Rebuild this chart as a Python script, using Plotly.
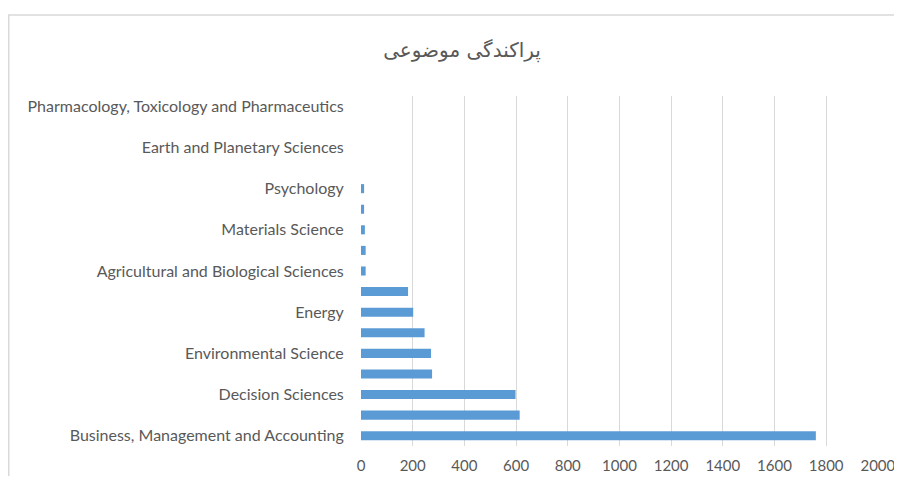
import plotly.graph_objects as go

categories = [
    "Business, Management and Accounting",
    "Economics, Econometrics and Finance",
    "Decision Sciences",
    "Social Sciences",
    "Environmental Science",
    "Engineering",
    "Energy",
    "Computer Science",
    "Agricultural and Biological Sciences",
    "Mathematics",
    "Materials Science",
    "Medicine",
    "Psychology",
    "Arts and Humanities",
    "Earth and Planetary Sciences",
    "Chemical Engineering",
    "Pharmacology, Toxicology and Pharmaceutics",
]
values = [1760, 614, 598, 275, 271, 246, 202, 182, 18, 18, 15, 12, 12, 0, 0, 0, 0]
shown_labels = categories[::2]
x_ticks = [0, 200, 400, 600, 800, 1000, 1200, 1400, 1600, 1800, 2000]
title_text = "پراکندگی موضوعی"

# page body has an 8px margin on every side; keep the page inside the window
OFF = 8
W, H = 902 - 2 * OFF, 484 - 2 * OFF
ml = 361 - OFF
pr = 878 - OFF
mr = W - pr
mt = 96 - OFF
pb = 446 - OFF
mb = H - pb

fig = go.Figure(go.Bar(
    x=values, y=categories, orientation="h",
    marker=dict(color="#5B9BD5", line=dict(width=0)),
    width=0.44,
))

fig.update_layout(
    width=W, height=H,
    margin=dict(l=ml, r=mr, t=mt, b=mb, autoexpand=False),
    paper_bgcolor="white", plot_bgcolor="white",
    showlegend=False,
    font=dict(family="Lato", size=16, color="#595959"),
    title=dict(text=title_text, x=(462 - OFF) / W, xanchor="center",
               y=1 - (50 - OFF) / H, yanchor="middle", automargin=False,
               font=dict(family="DejaVu Sans", size=20, color="#595959")),
    xaxis=dict(range=[0, 2000.5], tickvals=x_ticks, showgrid=True, gridcolor="#D9D9D9", gridwidth=1,
               zeroline=False, showline=False, ticks="outside", ticklen=6,
               tickfont=dict(size=15), ticklabeloverflow="allow",
               tickcolor="rgba(0,0,0,0)", automargin=False),
    yaxis=dict(type="category", categoryorder="array", categoryarray=categories,
               tickmode="array", tickvals=shown_labels, ticktext=shown_labels,
               range=[-0.5, len(categories) - 0.5], automargin=False,
               showgrid=False, zeroline=False, showline=False,
               ticks="outside", ticklen=13, tickcolor="rgba(0,0,0,0)"),
)

# Chart area border (extends past the visible window on the right and bottom)
pw = W - ml - mr
ph = H - mt - mb
fig.add_shape(type="rect", xref="paper", yref="paper",
              x0=(0.75 - ml) / pw, x1=(W + 20 - ml) / pw,
              y0=-(mb + 20) / ph, y1=1 + (mt - (15 - OFF)) / ph,
              line=dict(color="#D9D9D9", width=1.5), fillcolor="rgba(0,0,0,0)", layer="below")

fig.write_html("out.html")
